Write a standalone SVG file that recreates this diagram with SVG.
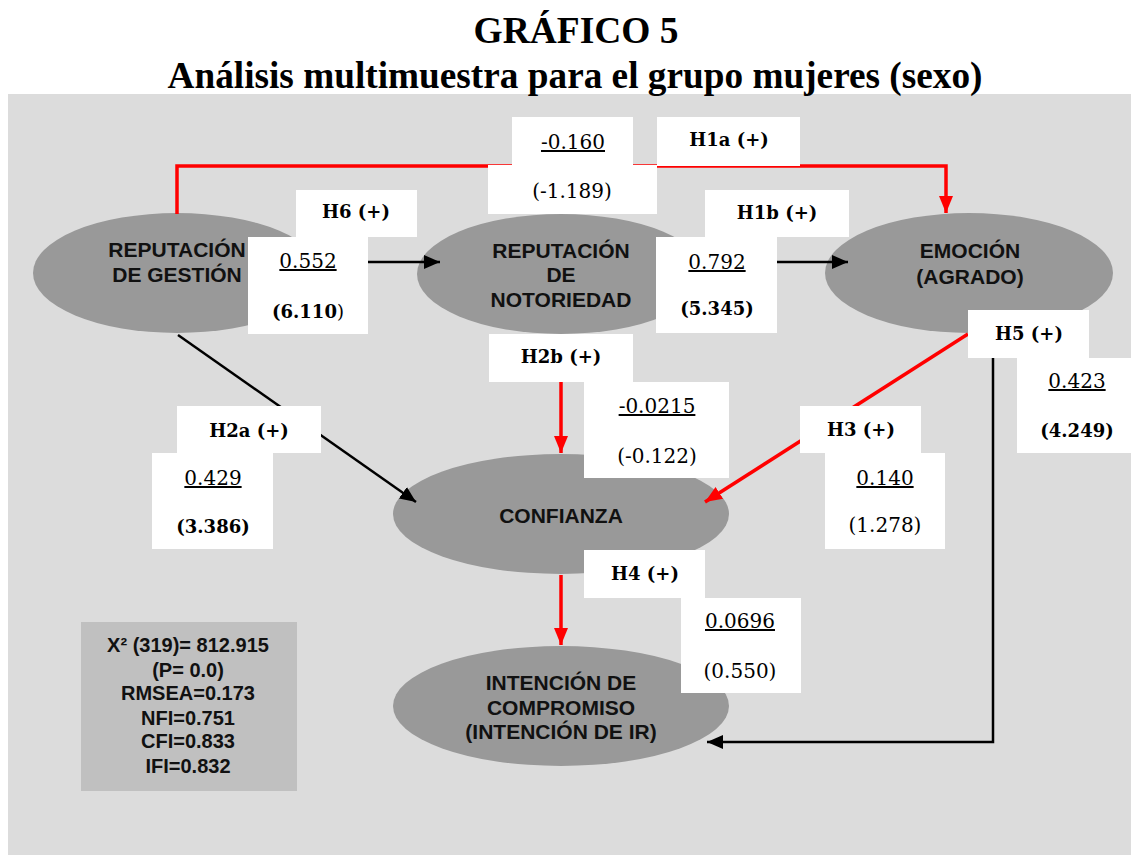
<svg xmlns="http://www.w3.org/2000/svg" width="1131" height="855" viewBox="0 0 1131 855">
<style>
.title{font-family:"Liberation Serif","Times New Roman",serif;font-weight:bold;fill:#000;text-anchor:middle}
.node{fill:#999999}
.nt{font-family:"Liberation Sans",Arial,sans-serif;font-weight:bold;font-size:21px;fill:#111;text-anchor:middle}
.box{fill:#ffffff}
.hl{font-family:"DejaVu Serif",serif;font-weight:bold;font-size:18px;fill:#000;text-anchor:middle}
.num{font-family:"DejaVu Serif",serif;font-size:20px;fill:#000;text-anchor:middle}
.u{text-decoration:underline}
.bn{font-family:"DejaVu Serif",serif;font-weight:bold;font-size:18px;fill:#000;text-anchor:middle}
.st{font-family:"Liberation Sans",Arial,sans-serif;font-weight:bold;font-size:20px;fill:#111;text-anchor:middle}
.red{stroke:#ff0000;stroke-width:3.5;fill:none}
.blk{stroke:#000;stroke-width:2.5;fill:none}
</style>
<defs>
<marker id="ar" markerUnits="userSpaceOnUse" markerWidth="18" markerHeight="16" refX="17" refY="8" orient="auto"><path d="M0,1 L17,8 L0,15 Z" fill="#ff0000"/></marker>
<marker id="ab" markerUnits="userSpaceOnUse" markerWidth="18" markerHeight="16" refX="16" refY="8" orient="auto"><path d="M0,1 L16,8 L0,15 Z" fill="#000"/></marker>
</defs>
<rect x="0" y="0" width="1131" height="855" fill="#ffffff"/>
<rect x="8" y="94" width="1123" height="761" fill="#dcdcdc"/>
<text class="title" x="576" y="43" font-size="38" textLength="205" lengthAdjust="spacingAndGlyphs">GRÁFICO 5</text>
<text class="title" x="575" y="88" font-size="37" textLength="815" lengthAdjust="spacingAndGlyphs">Análisis multimuestra para el grupo mujeres (sexo)</text>

<g id="n-gestion"><ellipse class="node" cx="177" cy="273" rx="144" ry="60"/><text class="nt" x="177" y="257">REPUTACIÓN</text><text class="nt" x="177" y="282">DE GESTIÓN</text></g>
<g id="n-notoriedad"><ellipse class="node" cx="561" cy="274" rx="144" ry="60"/><text class="nt" x="561" y="258">REPUTACIÓN</text><text class="nt" x="561" y="282">DE</text><text class="nt" x="561" y="307">NOTORIEDAD</text></g>
<g id="n-emocion"><ellipse class="node" cx="969" cy="273" rx="144" ry="60"/><text class="nt" x="970" y="258">EMOCIÓN</text><text class="nt" x="970" y="284">(AGRADO)</text></g>
<g id="n-confianza"><ellipse class="node" cx="561" cy="514" rx="168" ry="60"/><text class="nt" x="561" y="523">CONFIANZA</text></g>
<g id="n-intencion"><ellipse class="node" cx="561" cy="706" rx="168" ry="60"/><text class="nt" x="561" y="690">INTENCIÓN DE</text><text class="nt" x="561" y="715">COMPROMISO</text><text class="nt" x="561" y="739">(INTENCIÓN DE IR)</text></g>

<g id="connectors">
<path class="red" d="M177,214 L177,166 L946,166 L946,213" marker-end="url(#ar)"/>
<path class="blk" d="M368,262 L440,262" marker-end="url(#ab)"/>
<path class="blk" d="M777,262 L848,262" marker-end="url(#ab)"/>
<path class="blk" d="M178,335 L416,502" marker-end="url(#ab)"/>
<path class="red" d="M561,382 L561,453" marker-end="url(#ar)"/>
<path class="red" d="M968,334 L705,502" marker-end="url(#ar)"/>
<path class="red" d="M561,575 L561,645" marker-end="url(#ar)"/>
<path class="blk" d="M993,345 L993,742 L707,742" marker-end="url(#ab)"/>
</g>

<g id="labels">
<g id="l-h1a"><rect class="box" x="657" y="117" width="143" height="49"/><text class="hl" x="729" y="146">H1a (+)</text></g>
<g id="l-h1a-v"><rect class="box" x="512" y="117" width="121" height="48"/><rect class="box" x="488" y="165" width="169" height="49"/><text class="num u" x="573" y="149">-0.160</text><text class="num" x="572" y="198">(-1.189)</text></g>
<g id="l-h6"><rect class="box" x="296" y="190" width="121" height="47"/><text class="hl" x="356" y="218">H6 (+)</text></g>
<g id="l-h6-v"><rect class="box" x="248" y="237" width="120" height="97"/><text class="num u" x="308" y="268">0.552</text><text class="bn" x="308" y="318">(6.110<tspan font-weight="normal">)</tspan></text></g>
<g id="l-h1b"><rect class="box" x="705" y="190" width="144" height="47"/><text class="hl" x="777" y="219">H1b (+)</text></g>
<g id="l-h1b-v"><rect class="box" x="656" y="237" width="121" height="96"/><text class="num u" x="717" y="269">0.792</text><text class="bn" x="717" y="315">(5.345)</text></g>
<g id="l-h5"><rect class="box" x="968" y="310" width="121" height="48"/><text class="hl" x="1029" y="340">H5 (+)</text></g>
<g id="l-h5-v"><rect class="box" x="1017" y="358" width="114" height="95"/><text class="num u" x="1077" y="388">0.423</text><text class="bn" x="1077" y="437">(4.249)</text></g>
<g id="l-h2b"><rect class="box" x="489" y="334" width="144" height="48"/><text class="hl" x="561" y="363">H2b (+)</text></g>
<g id="l-h2b-v"><rect class="box" x="584" y="382" width="145" height="96"/><text class="num u" x="657" y="413">-0.0215</text><text class="num" x="657" y="463">(-0.122)</text></g>
<g id="l-h2a"><rect class="box" x="177" y="406" width="144" height="47"/><text class="hl" x="249" y="437">H2a (+)</text></g>
<g id="l-h2a-v"><rect class="box" x="152" y="453" width="121" height="96"/><text class="num u" x="213" y="485">0.429</text><text class="bn" x="213" y="533">(3.386)</text></g>
<g id="l-h3"><rect class="box" x="800" y="406" width="121" height="47"/><text class="hl" x="861" y="436">H3 (+)</text></g>
<g id="l-h3-v"><rect class="box" x="825" y="453" width="120" height="96"/><text class="num u" x="885" y="485">0.140</text><text class="num" x="885" y="532">(1.278)</text></g>
<g id="l-h4"><rect class="box" x="584" y="550" width="121" height="48"/><text class="hl" x="645" y="580">H4 (+)</text></g>
<g id="l-h4-v"><rect class="box" x="681" y="598" width="120" height="95"/><text class="num u" x="740" y="628">0.0696</text><text class="num" x="740" y="678">(0.550)</text></g>
</g>

<g id="stats">
<rect x="81" y="622" width="216" height="169" fill="#c0c0c0"/>
<text class="st" x="188" y="652">X² (319)= 812.915</text>
<text class="st" x="188" y="677">(P= 0.0)</text>
<text class="st" x="188" y="700">RMSEA=0.173</text>
<text class="st" x="188" y="725">NFI=0.751</text>
<text class="st" x="188" y="748">CFI=0.833</text>
<text class="st" x="188" y="773">IFI=0.832</text>
</g>
</svg>
